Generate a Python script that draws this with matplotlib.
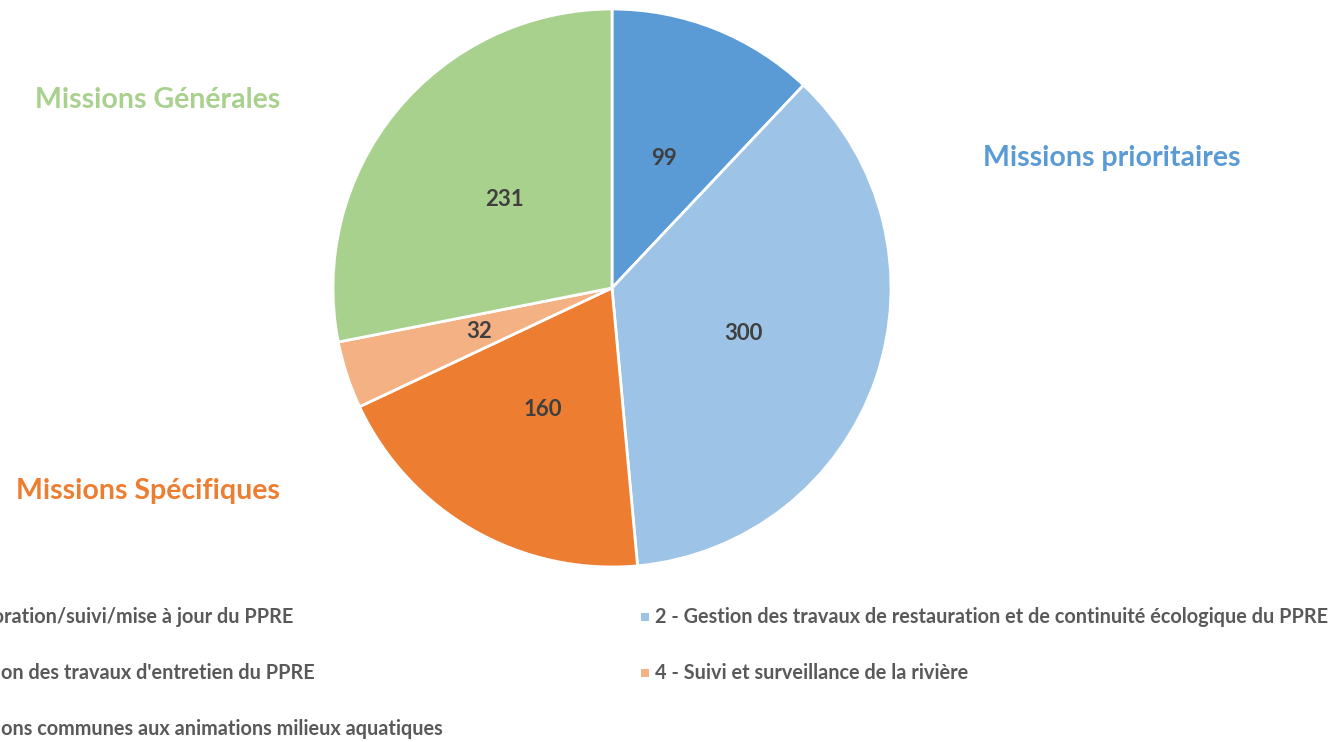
import matplotlib
matplotlib.use("Agg")
import matplotlib.pyplot as plt

plt.rcParams['font.family'] = ['Lato', 'DejaVu Sans']

labels = [
    "1 - Elaboration/suivi/mise à jour du PPRE",
    "2 - Gestion des travaux de restauration et de continuité écologique du PPRE",
    "3 - Gestion des travaux d'entretien du PPRE",
    "4 - Suivi et surveillance de la rivière",
    "5 - Missions communes aux animations milieux aquatiques",
]
values = [99, 300, 160, 32, 231]
colors = ["#5B9BD5", "#9DC3E6", "#ED7D31", "#F4B183", "#A9D18E"]

groups = ["Missions Générales", "Missions prioritaires", "Missions Spécifiques"]
group_colors = ["#A9D18E", "#5B9BD5", "#ED7D31"]

W, H = 1341, 742
fig = plt.figure(figsize=(W / 100, H / 100), dpi=100)

cx, cy, r = 612, 288, 279
ax = fig.add_axes([(cx - r) / W, (H - cy - r) / H, 2 * r / W, 2 * r / H])
ax.pie(values, colors=colors, startangle=90, counterclock=False,
       radius=1, wedgeprops=dict(edgecolor="white", linewidth=2),
       autopct=lambda p: f"{round(p * sum(values) / 100):d}", pctdistance=0.5,
       textprops=dict(color="#3F3F3F", fontsize=16, fontweight="bold"))
ax.set_xlim(-1, 1)
ax.set_ylim(-1, 1)
ax.set_aspect("equal")
ax.axis("off")

# group titles
title_kw = dict(fontsize=20.5, fontweight="bold", ha="left", va="center")
fig.text(35 / W, 1 - 100 / H, groups[0], color=group_colors[0], **title_kw)
fig.text(983 / W, 1 - 158 / H, groups[1], color=group_colors[1], **title_kw)
fig.text(16 / W, 1 - 491 / H, groups[2], color=group_colors[2], **title_kw)

# legend (manually laid out, left column cut by the figure edge as in the original)
leg_rows = [617, 673, 729]
col_x = [-84, 645]
order = [(0, 0, 0), (1, 1, 0), (2, 0, 1), (3, 1, 1), (4, 0, 2)]
for idx, col, row in order:
    x = col_x[col]
    y = 1 - leg_rows[row] / H
    fig.patches.append(plt.Rectangle(((x - 4) / W, y - 4 / H), 8 / W, 8 / H,
                                     transform=fig.transFigure,
                                     facecolor=colors[idx], edgecolor="none"))
    fig.text((x + 10) / W, y, labels[idx], color="#595959", fontsize=14.3,
             fontweight="bold", ha="left", va="center")

fig.savefig("out.png", dpi=100, facecolor="white")
